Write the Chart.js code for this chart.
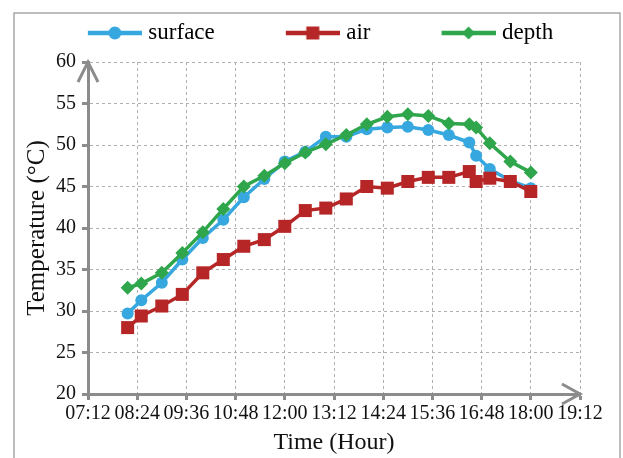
<!DOCTYPE html>
<html>
<head>
<meta charset="utf-8">
<script src="https://cdn.jsdelivr.net/npm/chart.js@4.4.1/dist/chart.umd.min.js"></script>
<style>
  html, body { margin: 0; padding: 0; background: #fff; }
  #wrap { width: 623px; height: 458px; }
</style>
</head>
<body>
<div id="wrap"><canvas id="tempChart" width="623" height="458"></canvas></div>
<script>
const times = [
  "08:10", "08:30", "09:00", "09:30", "10:00", "10:30", "11:00", "11:30",
  "12:00", "12:30", "13:00", "13:30", "14:00", "14:30", "15:00", "15:30",
  "16:00", "16:30", "16:40", "17:00", "17:30", "18:00"
];

const surfaceTemp = [29.7, 31.3, 33.4, 36.2, 38.8, 41.0, 43.7, 45.9, 48.0, 49.2, 51.0, 51.0, 51.9, 52.1, 52.2, 51.8, 51.2, 50.3, 48.7, 47.1, 45.7, 44.8];
const airTemp = [28.0, 29.4, 30.6, 32.0, 34.6, 36.2, 37.8, 38.6, 40.2, 42.1, 42.4, 43.5, 45.0, 44.8, 45.6, 46.1, 46.1, 46.8, 45.6, 46.0, 45.6, 44.4];
const depthTemp = [32.8, 33.3, 34.6, 37.0, 39.5, 42.3, 45.0, 46.3, 47.8, 49.1, 50.1, 51.2, 52.5, 53.4, 53.7, 53.5, 52.6, 52.5, 52.1, 50.2, 48.0, 46.7];

const xTickLabels = ["07:12", "08:24", "09:36", "10:48", "12:00", "13:12", "14:24", "15:36", "16:48", "18:00", "19:12"];
const yMin = 20, yMax = 60, yStep = 5;

const FONT = "'Liberation Serif', 'Times New Roman', serif";
const AXIS_GRAY = "#8c8c8c";

function toMin(s) {
  const [h, m] = s.split(":").map(Number);
  return h * 60 + m;
}

function points(values) {
  return values.map((v, i) => ({ x: toMin(times[i]), y: v }));
}

// legend icon: line with the marker in the middle, drawn on the right part of a wider canvas
function legendIcon(color, style) {
  const c = document.createElement("canvas");
  c.width = 120;
  c.height = 20;
  const g = c.getContext("2d");
  g.strokeStyle = color;
  g.fillStyle = color;
  g.lineWidth = 4.5;
  g.beginPath();
  g.moveTo(66, 10);
  g.lineTo(120, 10);
  g.stroke();
  const cx = 93, cy = 10;
  g.beginPath();
  if (style === "circle") {
    g.arc(cx, cy, 6.5, 0, Math.PI * 2);
  } else if (style === "rect") {
    g.rect(cx - 6.5, cy - 6.5, 13, 13);
  } else {
    g.moveTo(cx, cy - 6.5);
    g.lineTo(cx + 6.5, cy);
    g.lineTo(cx, cy + 6.5);
    g.lineTo(cx - 6.5, cy);
    g.closePath();
  }
  g.fill();
  return c;
}

const series = [
  { label: "surface", data: surfaceTemp, color: "#37a8df", style: "circle", radius: 6, order: 3 },
  { label: "air", data: airTemp, color: "#b72626", style: "rect", radius: 9.2, order: 2 },
  { label: "depth", data: depthTemp, color: "#2fa64c", style: "rectRot", radius: 7, order: 1 }
];

const framePlugin = {
  id: "frameAndArrows",
  beforeDraw(chart) {
    const ctx = chart.ctx;
    ctx.save();
    ctx.fillStyle = "#fff";
    ctx.fillRect(0, 0, chart.width, chart.height);
    ctx.strokeStyle = "#a8a8a8";
    ctx.lineWidth = 1.5;
    ctx.strokeRect(14, 13, 606, 470);
    ctx.restore();
  },
  afterLayout(chart) {
    chart.legend.top -= 10.5;
    chart.legend.bottom -= 10.5;
  },
  afterDraw(chart) {
    const { ctx, chartArea } = chart;
    ctx.save();
    ctx.strokeStyle = AXIS_GRAY;
    ctx.lineWidth = 3;
    ctx.lineJoin = "miter";
    // y axis arrow
    ctx.beginPath();
    ctx.moveTo(chartArea.left - 10, chartArea.top + 20);
    ctx.lineTo(chartArea.left, chartArea.top);
    ctx.lineTo(chartArea.left + 10, chartArea.top + 20);
    ctx.stroke();
    // x axis arrow
    ctx.beginPath();
    ctx.moveTo(chartArea.right - 18, chartArea.bottom - 10);
    ctx.lineTo(chartArea.right, chartArea.bottom);
    ctx.lineTo(chartArea.right - 18, chartArea.bottom + 10);
    ctx.stroke();
    ctx.restore();
  }
};

new Chart(document.getElementById("tempChart"), {
  type: "line",
  data: {
    datasets: series.map(s => ({
      label: s.label,
      data: points(s.data),
      borderColor: s.color,
      backgroundColor: s.color,
      borderWidth: 3.5,
      pointStyle: s.style,
      pointRadius: s.radius,
      pointHoverRadius: s.radius,
      pointBorderWidth: 0,
      pointBackgroundColor: s.color,
      tension: 0,
      order: s.order
    }))
  },
  options: {
    responsive: false,
    animation: false,
    layout: { padding: { top: 22, right: 43, left: 0, bottom: 0 } },
    plugins: {
      tooltip: { enabled: false },
      legend: {
        position: "top",
        maxHeight: 40,
        labels: {
          usePointStyle: true,
          pointStyleWidth: 110,
          padding: 10,
          color: "#111",
          font: { family: FONT, size: 23 },
          generateLabels: () => series.map((s, i) => ({
            text: s.label,
            pointStyle: legendIcon(s.color, s.style),
            fillStyle: s.color,
            strokeStyle: s.color,
            lineWidth: 0,
            hidden: false,
            datasetIndex: i
          }))
        }
      }
    },
    scales: {
      x: {
        type: "linear",
        min: toMin(xTickLabels[0]),
        max: toMin(xTickLabels[xTickLabels.length - 1]),
        afterFit: scale => { scale.height = 64; },
        ticks: {
          stepSize: toMin(xTickLabels[1]) - toMin(xTickLabels[0]),
          autoSkip: false,
          maxRotation: 0,
          padding: 2,
          color: "#111",
          font: { family: FONT, size: 20 },
          callback: value => xTickLabels.find(t => toMin(t) === value) || ""
        },
        grid: {
          color: "#b0b0b0",
          lineWidth: 1,
          tickLength: 6,
          tickColor: AXIS_GRAY,
          tickWidth: 3
        },
        border: { color: AXIS_GRAY, width: 3, dash: [3, 3] },
        title: {
          display: true,
          text: "Time (Hour)",
          color: "#111",
          font: { family: FONT, size: 24 },
          padding: { top: 0, bottom: 1 }
        }
      },
      y: {
        min: yMin,
        max: yMax,
        afterFit: scale => { scale.width = 88; },
        ticks: {
          stepSize: yStep,
          padding: 6,
          color: "#111",
          font: { family: FONT, size: 20 }
        },
        grid: {
          color: "#b0b0b0",
          lineWidth: 1,
          tickLength: 6,
          tickColor: AXIS_GRAY,
          tickWidth: 3
        },
        border: { color: AXIS_GRAY, width: 3, dash: [3, 3] },
        title: {
          display: true,
          text: "Temperature (°C)",
          color: "#111",
          font: { family: FONT, size: 25 },
          padding: { top: 22, bottom: 0 }
        }
      }
    }
  },
  plugins: [framePlugin]
});
</script>
</body>
</html>
